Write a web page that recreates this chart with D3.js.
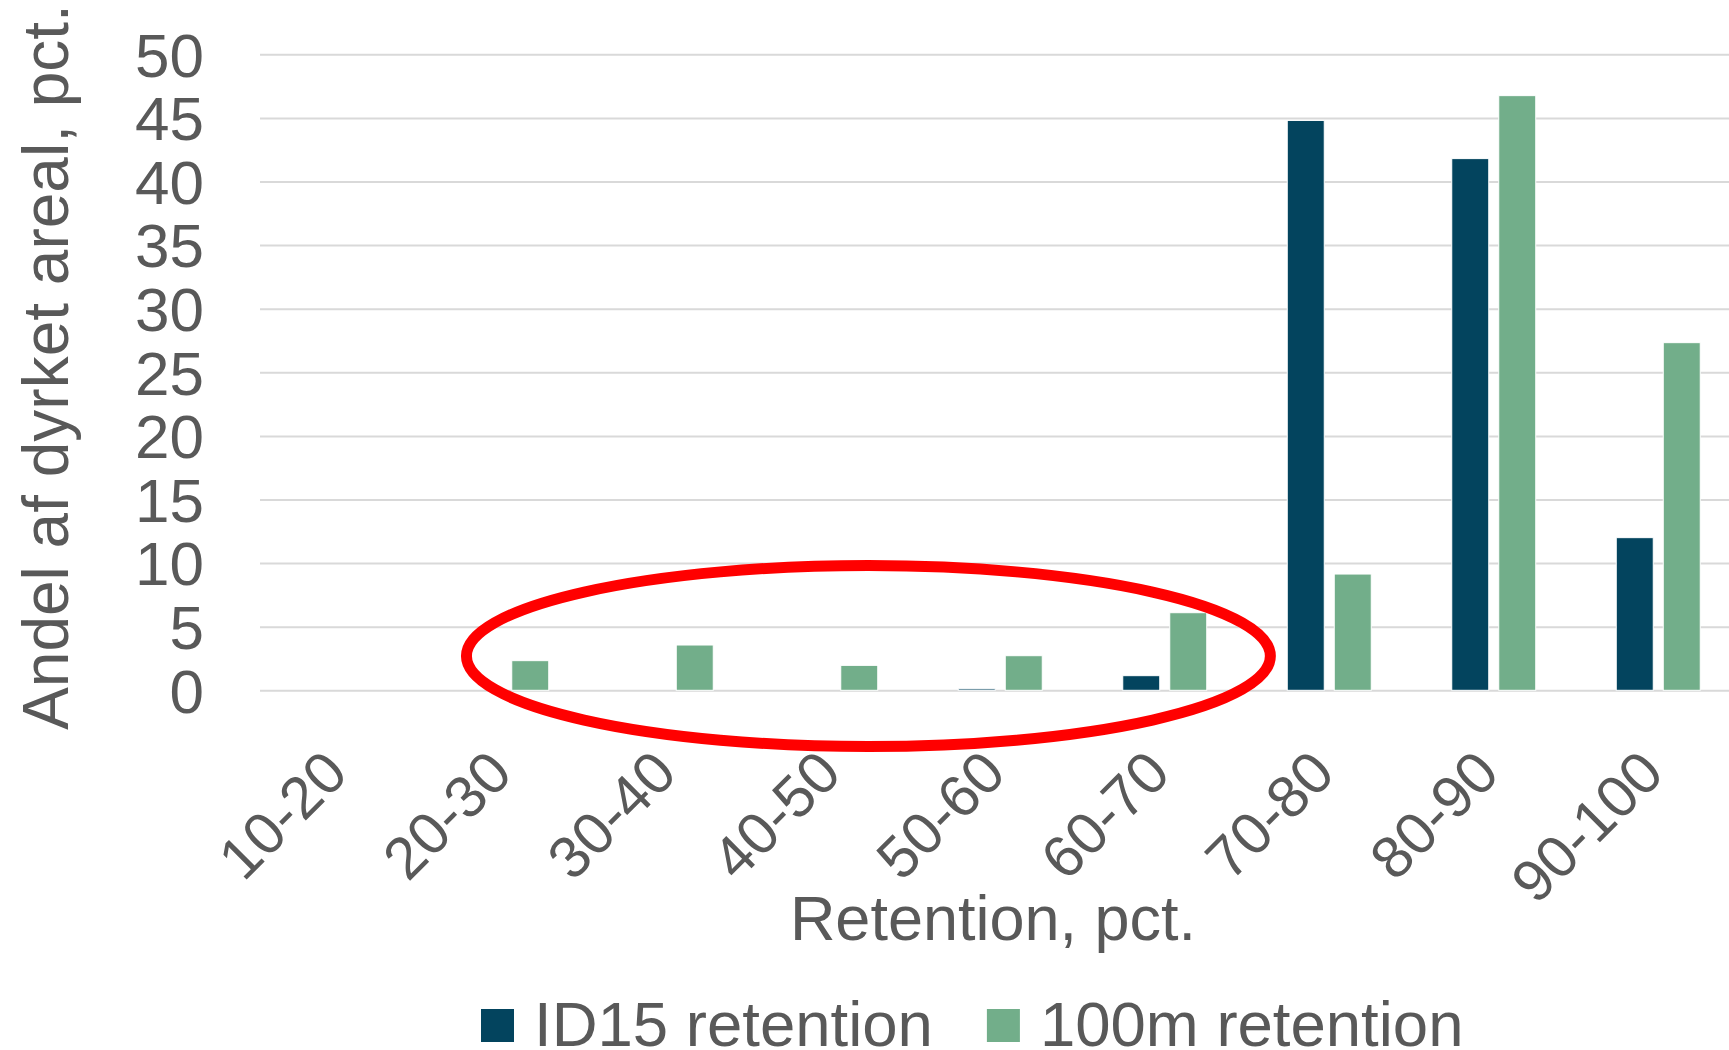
<!DOCTYPE html>
<html>
<head>
<meta charset="utf-8">
<script src="https://cdn.jsdelivr.net/npm/d3@7"></script>
<style>
body { margin:0; background:#fff; }
text { font-family:"Liberation Sans", Arial, sans-serif; fill:#595959; }
</style>
</head>
<body>
<svg id="chart"></svg>
<script>
//categories on the x axis
var categories = ["10-20","20-30","30-40","40-50","50-60","60-70","70-80","80-90","90-100"];
//the two series, share of cultivated area (pct.)
var seriesNames = ["ID15 retention","100m retention"];
var id15Values = [0, 0, 0, 0, 0.12, 1.15, 44.8, 41.8, 12.0];
var m100Values = [0, 2.33, 3.56, 1.96, 2.72, 6.1, 9.14, 46.75, 27.33];
var seriesColors = ["#03445E","#72AE8A"];
var yTicks = [0,5,10,15,20,25,30,35,40,45,50];
//red ring drawn over the low categories, in category index / value units
var ringIndex = [1.255, 6.142];
var ringValue = [-4.42, 9.81];

var screen = {width:1729,height:1050};
var plot = {left:260,right:1740.5,top:54.3,bottom:690.3};

var svg = d3.select("#chart")
    .attr("width",screen.width)
    .attr("height",screen.height);

var xScale = d3.scaleBand()
    .domain(categories)
    .range([plot.left,plot.right])
    .paddingInner(0.4894)
    .paddingOuter(0.2447);

var xInner = d3.scaleBand()
    .domain(seriesNames)
    .range([0,xScale.bandwidth()])
    .paddingInner(0.2128);

//plain index scale, used for the annotation ring
var xIndex = d3.scaleLinear()
    .domain([0,categories.length])
    .range([plot.left,plot.right]);

var yScale = d3.scaleLinear()
    .domain([0,50])
    .range([plot.bottom,plot.top]);

//gridlines
var yAxis = d3.axisLeft(yScale)
    .tickValues(yTicks)
    .tickSize(-(plot.right-plot.left))
    .tickFormat("");
var grid = svg.append("g")
    .attr("transform","translate("+plot.left+",0)")
    .call(yAxis);
grid.select(".domain").remove();
grid.selectAll("line")
    .attr("stroke","#D9D9D9")
    .attr("stroke-width",2);

//y tick labels
svg.append("g")
    .selectAll("text")
    .data(yTicks)
    .enter()
    .append("text")
    .attr("x",204)
    .attr("y",function(d){ return yScale(d);})
    .attr("dy","0.36em")
    .attr("text-anchor","end")
    .attr("font-size",62)
    .text(function(d){ return d;});

//bars
var rows = categories.map(function(c,i)
{
    return {cat:c, values:[id15Values[i],m100Values[i]]};
});
var groups = svg.append("g")
    .selectAll("g")
    .data(rows)
    .enter()
    .append("g")
    .attr("transform",function(r){ return "translate("+xScale(r.cat)+",0)";});
groups.selectAll("rect")
    .data(function(r)
    {
        return r.values.map(function(v,k){ return {name:seriesNames[k],value:v,k:k};});
    })
    .enter()
    .append("rect")
    .filter(function(d){ return d.value>0;})
    .attr("x",function(d){ return xInner(d.name);})
    .attr("width",xInner.bandwidth())
    .attr("y",function(d){ return yScale(d.value);})
    .attr("height",function(d){ return yScale(0)-yScale(d.value);})
    .attr("fill",function(d){ return seriesColors[d.k];})
    .attr("stroke","#ffffff")
    .attr("stroke-width",1);

//x tick labels, turned 45 degrees
svg.append("g")
    .selectAll("text")
    .data(categories)
    .enter()
    .append("text")
    .attr("transform",function(c)
    {
        var x = xScale(c)+xScale.bandwidth()/2+8;
        return "translate("+x+",776) rotate(-45)";
    })
    .attr("text-anchor","end")
    .attr("font-size",59)
    .text(function(c){ return c;});

//axis titles
svg.append("text")
    .attr("x",993)
    .attr("y",939.5)
    .attr("text-anchor","middle")
    .attr("font-size",63)
    .text("Retention, pct.");

svg.append("text")
    .attr("transform","translate(68,367) rotate(-90)")
    .attr("text-anchor","middle")
    .attr("font-size",64)
    .text("Andel af dyrket areal, pct.");

//red ring
var rx0 = xIndex(ringIndex[0]), rx1 = xIndex(ringIndex[1]);
var ry0 = yScale(ringValue[1]), ry1 = yScale(ringValue[0]);
svg.append("ellipse")
    .attr("cx",(rx0+rx1)/2)
    .attr("cy",(ry0+ry1)/2)
    .attr("rx",(rx1-rx0)/2)
    .attr("ry",(ry1-ry0)/2)
    .attr("fill","none")
    .attr("stroke","#FF0000")
    .attr("stroke-width",11);

//legend, sits right on the bottom edge like the original
var legend = svg.append("g");
var lx = 481;
seriesNames.forEach(function(name,k)
{
    legend.append("rect")
        .attr("x",lx)
        .attr("y",1009)
        .attr("width",33)
        .attr("height",33)
        .attr("fill",seriesColors[k]);
    var t = legend.append("text")
        .attr("x",lx+53)
        .attr("y",1045.5)
        .attr("font-size",63.5)
        .text(name);
    lx = lx+53+t.node().getComputedTextLength()+54;
});
</script>
</body>
</html>
